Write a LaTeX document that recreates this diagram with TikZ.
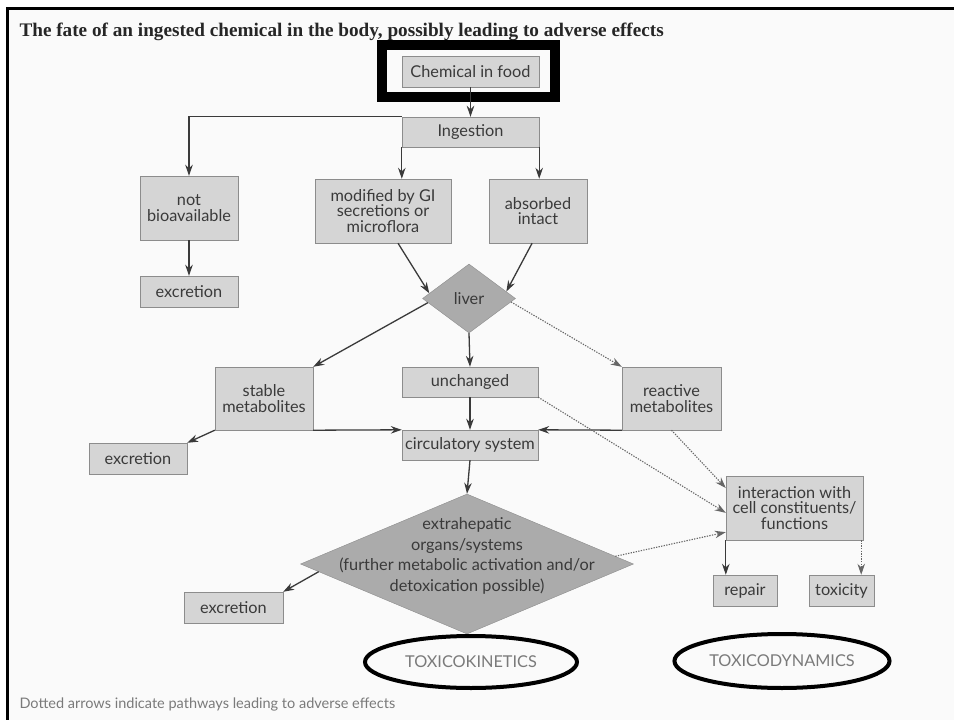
\documentclass[tikz,border=0pt]{standalone}
\usepackage{fontspec}
\setmainfont{Lato}
\newfontfamily\titlefont{Liberation Serif}
\usetikzlibrary{arrows.meta,shapes.geometric,calc}
\definecolor{boxfill}{HTML}{D5D5D5}
\definecolor{boxline}{HTML}{8C8C8C}
\definecolor{diamondfill}{HTML}{ABABAB}
\definecolor{inkgray}{HTML}{3A3A3A}
\definecolor{linegray}{HTML}{3A3A3A}
\definecolor{dotgray}{HTML}{666666}
\definecolor{notegray}{HTML}{7A7A7A}
\definecolor{pagefill}{HTML}{FAFAFA}

\begin{document}
\begin{tikzpicture}
[x=1pt,y=-1pt,
  boxdecorate/.style={shape=rectangle,draw=boxline,fill=boxfill,text=inkgray,
    inner sep=1pt,align=center,font=\fontsize{16.3}{15.5}\selectfont},
  diamonddecorate/.style={shape=diamond,draw=boxline,fill=diamondfill,inner sep=0pt,
    text=inkgray,font=\fontsize{16.3}{15.5}\selectfont},
  linedecorate/.style={-{Stealth[length=11pt,width=7.5pt]},line width=1.3pt,draw=linegray},
  dotdecorate/.style={linedecorate,line width=1.1pt,dash pattern=on 1.3pt off 1.3pt,draw=dotgray},
  ovaldecorate/.style={shape=ellipse,draw=black,line width=4pt,text=notegray,
    font=\fontsize{16.3}{15.5}\selectfont}]
\useasboundingbox (0,0) rectangle (954,720);
%% page
\fill[pagefill] (7,8) rectangle (954,720);
\draw[line width=3pt] (7,720) -- (7,8) -- (954,8);
%% title and note
\node[anchor=west,font=\titlefont\bfseries\fontsize{19.2}{21}\selectfont,text=black!85] (title)
  at (16,32) {The fate of an ingested chemical in the body, possibly leading to adverse effects};
\node[anchor=west,font=\fontsize{14.5}{16}\selectfont,text=notegray] (note)
  at (16,704) {Dotted arrows indicate pathways leading to adverse effects};
%% boxes
\foreach \nodename/\x/\y/\w/\h/\txt in {food/470.5/71.5/137/31/Chemical in food,
  ingest/470.5/132/137/30/Ingestion, notbio/189/208/98/64/not\\bioavailable,
  excr1/189/291.5/98/31/excretion, modif/383/211/136/64/modified by GI\\secretions or\\microflora,
  absorb/538/211/98/64/absorbed\\intact, stable/264/398.5/98/63/stable\\metabolites,
  unchg/470/382/136/30/unchanged, react/671.5/398.5/99/63/reactive\\metabolites,
  circ/470/445/136/30/circulatory system, excr2/138/458.5/98/31/excretion,
  excr3/233.5/607.5/99/31/excretion, repair/745/590.5/64/31/repair,
  toxic/841.5/590.5/65/31/toxicity} {
  \node[boxdecorate,minimum width=\w,minimum height=\h] (\nodename) at (\x,\y) {\txt};
}
\node[boxdecorate,minimum width=137,minimum height=64] (inter) at (794.5,508)
  {interaction with\\cell constituents/\\functions};
%% diamonds
\node[diamonddecorate,minimum width=93,minimum height=69] (liver) at (469,298.5) {liver};
\node[diamonddecorate,minimum width=333,minimum height=140] (extra) at (467,564) {};
\node[align=center,text=inkgray,font=\fontsize{16.3}{20.5}\selectfont] (extratext) at (467,556)
  {extrahepatic\\organs/systems\\(further metabolic activation and/or\\detoxication possible)};
%% marks
\node[draw=black,line width=9.5pt,minimum width=173,minimum height=52] (foodmark) at (468.5,71) {};
\node[ovaldecorate,minimum width=212,minimum height=52] (kinetics) at (471,662) {TOXICOKINETICS};
\node[ovaldecorate,minimum width=213,minimum height=54] (dynamics) at (782,661) {TOXICODYNAMICS};
%% edges
\path
\foreach \startnode/\endnode in {food.south/ingest.north, notbio.south/excr1.north,
  liver.south/unchg.north, unchg.south/circ.north, circ.south/extra.north,
  stable.south east/circ.north west, react.south west/circ.north east,
  stable.south west/excr2.north east} {
  (\startnode) edge[linedecorate] (\endnode)
};
\draw[linedecorate] (ingest.north west) -| (notbio.north);
\draw[linedecorate] (ingest.south west) -- (ingest.south west |- modif.north);
\draw[linedecorate] (ingest.south east) -- (ingest.south east |- absorb.north);
\draw[linedecorate] ($(modif.south)!0.22!(modif.south east)$) -- ($(liver.west)!0.15!(liver.north)$);
\draw[linedecorate] ($(absorb.south)!0.12!(absorb.south west)$) -- ($(liver.east)!0.2!(liver.north)$);
\draw[linedecorate] ($(liver.west)!0.12!(liver.south)$) -- (stable.north east);
\draw[linedecorate] ($(extra.west)!0.11!(extra.south)$) -- (excr3.north east);
\draw[linedecorate] (inter.south west) -- (inter.south west |- repair.north);
%% dotted edges
\draw[dotdecorate] ($(liver.east)!0.1!(liver.south)$) -- (react.north west);
\draw[dotdecorate] (unchg.south east) -- ($(inter.west)!0.15!(inter.south west)$);
\draw[dotdecorate] (react.south) -- ($(inter.north west)!0.38!(inter.west)$);
\draw[dotdecorate] ($(extra.east)!0.11!(extra.north)$) -- ($(inter.south west)!0.25!(inter.west)$);
\draw[dotdecorate] ([xshift=-2pt]inter.south east) -- ([xshift=-2pt]inter.south east |- toxic.north);
\end{tikzpicture}
\end{document}
